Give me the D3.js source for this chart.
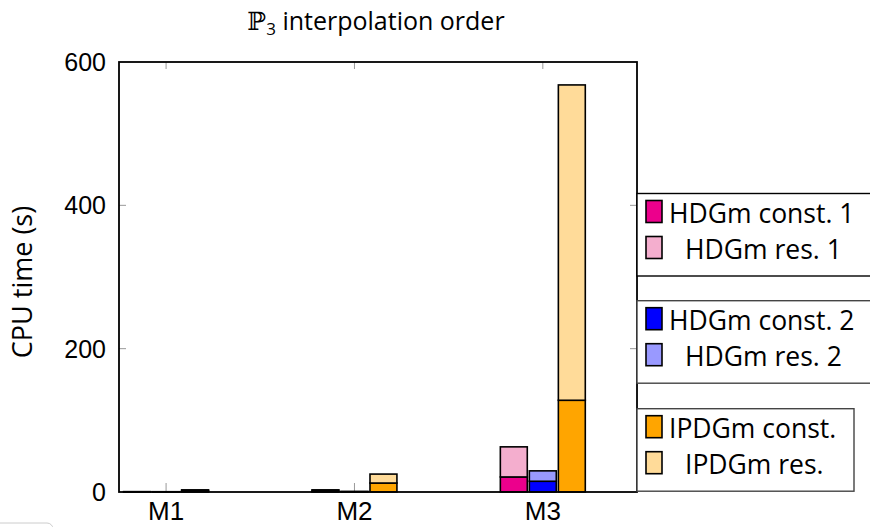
<!DOCTYPE html>
<html>
<head>
<meta charset="utf-8">
<script src="https://cdn.jsdelivr.net/npm/d3@7"></script>
<style>
  html, body { margin: 0; padding: 0; background: #fff; }
  svg { display: block; }
</style>
</head>
<body>
<svg id="chart" width="870" height="527"></svg>
<script>
// ---- data ----
const categories = ["M1", "M2", "M3"];
const hdg1Const = [0.3, 1.2, 21];
const hdg1Res   = [0.2, 1.8, 42];
const hdg2Const = [0.2, 0.4, 15];
const hdg2Res   = [0.2, 0.4, 14.5];
const ipdgConst = [1.5, 12.5, 128];
const ipdgRes   = [1.5, 12.5, 440];
const yTicks = [0, 200, 400, 600];
const seriesNames = ["HDGm const. 1", "HDGm res. 1", "HDGm const. 2", "HDGm res. 2", "IPDGm const.", "IPDGm res."];
const colors = ["#EC008C", "#F4AECE", "#0000FF", "#9999FF", "#FFA500", "#FFDB99"];

const groups = [
  { c: hdg1Const, r: hdg1Res, ci: 0, ri: 1, off: -1 },
  { c: hdg2Const, r: hdg2Res, ci: 2, ri: 3, off: 0 },
  { c: ipdgConst, r: ipdgRes, ci: 4, ri: 5, off: 1 }
];

const svg = d3.select("#chart");
const L = 119, R = 637, T = 62, B = 492;

const x = d3.scaleLinear().domain([-0.25, 2.5]).range([L, R]);
const y = d3.scaleLinear().domain([0, 600]).range([B, T]);
const step = x(0.154) - x(0);
const bw = x(0.143) - x(0);

// ticks (gray, inward)
const tickG = svg.append("g").attr("stroke", "#999").attr("stroke-width", 1);
[200, 400].forEach(v => {
  tickG.append("line").attr("x1", L).attr("x2", L + 7).attr("y1", y(v)).attr("y2", y(v));
  tickG.append("line").attr("x1", R - 7).attr("x2", R).attr("y1", y(v)).attr("y2", y(v));
});
categories.forEach((c, i) => {
  tickG.append("line").attr("x1", x(i)).attr("x2", x(i)).attr("y1", B).attr("y2", B - 9);
  tickG.append("line").attr("x1", x(i)).attr("x2", x(i)).attr("y1", T).attr("y2", T + 7);
});

// bars
groups.forEach(g => {
  categories.forEach((cat, i) => {
    const cx = x(i) + g.off * step;
    const c = g.c[i], r = g.r[i];
    svg.append("rect")
      .attr("x", cx - bw / 2).attr("width", bw)
      .attr("y", y(c)).attr("height", y(0) - y(c))
      .attr("fill", colors[g.ci]).attr("stroke", "#000").attr("stroke-width", 1.6);
    svg.append("rect")
      .attr("x", cx - bw / 2).attr("width", bw)
      .attr("y", y(c + r)).attr("height", y(c) - y(c + r))
      .attr("fill", colors[g.ri]).attr("stroke", "#000").attr("stroke-width", 1.6);
  });
});

// frame
svg.append("rect").attr("x", L).attr("y", T).attr("width", R - L).attr("height", B - T)
  .attr("fill", "none").attr("stroke", "#000").attr("stroke-width", 1.8);

// y tick labels
svg.append("g").selectAll("text").data(yTicks).join("text")
  .attr("x", 106).attr("y", d => y(d)).attr("dy", "0.36em")
  .attr("text-anchor", "end")
  .attr("font-family", "Liberation Sans, Arial, sans-serif")
  .attr("font-size", 25).attr("fill", "#000")
  .text(d => d);

// x labels
svg.append("g").selectAll("text").data(categories).join("text")
  .attr("x", (d, i) => x(i)).attr("y", 520)
  .attr("text-anchor", "middle")
  .attr("font-family", "Liberation Sans, Arial, sans-serif")
  .attr("font-size", 26).attr("fill", "#000")
  .text(d => d);

// y axis title
svg.append("text")
  .attr("transform", "translate(32,282) rotate(-90)")
  .attr("text-anchor", "middle")
  .attr("font-family", "Open Sans, sans-serif")
  .attr("font-size", 27).attr("fill", "#000")
  .text("CPU time (s)");

// title
const title = svg.append("text")
  .attr("x", 376).attr("y", 30).attr("text-anchor", "middle")
  .attr("font-family", "Open Sans, sans-serif")
  .attr("font-size", 25).attr("fill", "#000");
title.append("tspan").attr("font-family", "DejaVu Serif, serif").text("ℙ");
title.append("tspan").attr("font-size", 17).attr("dy", 5).text("3");
title.append("tspan").attr("dy", -5).text(" interpolation order");

// legends
const legendBoxes = [
  { top: 193.5, right: 880, stroke: "#000", idx: [0, 1] },
  { top: 300.7, right: 880, stroke: "#444", idx: [2, 3] },
  { top: 408.7, right: 854, stroke: "#444", idx: [4, 5] }
];
legendBoxes.forEach(lb => {
  const g = svg.append("g");
  g.append("rect").attr("x", 637).attr("y", lb.top).attr("width", lb.right - 637).attr("height", 82.5)
    .attr("fill", "#fff").attr("stroke", lb.stroke).attr("stroke-width", 1.4);
  lb.idx.forEach((si, k) => {
    const sy = lb.top + 7 + k * 36;
    g.append("rect").attr("x", 646).attr("y", sy).attr("width", 16).attr("height", 22)
      .attr("fill", colors[si]).attr("stroke", "#000").attr("stroke-width", 1.6);
    g.append("text").attr("x", k === 0 ? 669 : 685).attr("y", sy + 22)
      .attr("font-family", "Open Sans, sans-serif")
      .attr("font-size", 26.5).attr("fill", "#000")
      .text(seriesNames[si]);
  });
});

// small UI artifact in bottom-left corner
svg.append("rect").attr("x", -6).attr("y", 523).attr("width", 59).attr("height", 20).attr("rx", 6)
  .attr("fill", "#fff").attr("stroke", "#ccc").attr("stroke-width", 1);
</script>
</body>
</html>
